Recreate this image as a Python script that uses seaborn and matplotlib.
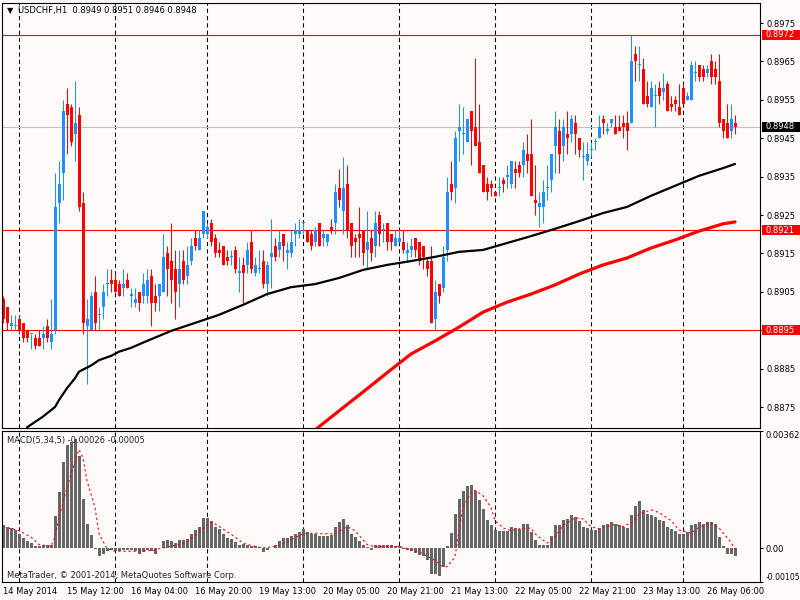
import numpy as np
import pandas as pd
import matplotlib
matplotlib.use('Agg')
import matplotlib.pyplot as plt
import matplotlib.transforms as mtransforms
from matplotlib.patches import Rectangle
import seaborn as sns

# USDCHF H1 bars from 14 May 2014 20:00, prices in pips (price = pips / 10000)
opens = [8903, 8901, 8896, 8896, 8898, 8897, 8895, 8894, 8893, 8893,
         8893, 8896, 8892, 8895, 8928, 8936, 8954, 8953, 8946, 8951,
         8928, 8896, 8895, 8905, 8899, 8901, 8907, 8908, 8908, 8907,
         8906, 8908, 8904, 8902, 8905, 8904, 8904, 8909, 8904, 8904,
         8905, 8915, 8913, 8911, 8907, 8913, 8909, 8913, 8919, 8916,
         8920, 8920, 8923, 8919, 8916, 8917, 8914, 8914, 8916, 8910,
         8912, 8912, 8918, 8910, 8911, 8913, 8907, 8914, 8917, 8916,
         8920, 8915, 8915, 8920, 8920, 8923, 8921, 8920, 8918, 8923,
         8919, 8918, 8922, 8923, 8932, 8926, 8933, 8923, 8919, 8920,
         8921, 8916, 8919, 8917, 8925, 8921, 8923, 8920, 8917, 8918,
         8918, 8915, 8916, 8919, 8918, 8917, 8913, 8913, 8898, 8907,
         8906, 8916, 8933, 8932, 8947, 8946, 8944, 8952, 8948, 8944,
         8938, 8933, 8933, 8931, 8932, 8934, 8935, 8933, 8937, 8938,
         8938, 8941, 8941, 8929, 8927, 8927, 8932, 8934, 8943, 8947,
         8943, 8946, 8946, 8949, 8945, 8940, 8939, 8942, 8944, 8945,
         8950, 8947, 8949, 8948, 8948, 8949, 8949, 8949, 8967, 8964,
         8963, 8956, 8953, 8956, 8958, 8957, 8959, 8954, 8955, 8953,
         8958, 8955, 8955, 8962, 8964, 8963, 8962, 8965, 8963, 8960,
         8950, 8949, 8947, 8949]
highs = [8904, 8901, 8899, 8899, 8899, 8897, 8895, 8894, 8894, 8895,
         8896, 8898, 8903, 8936, 8939, 8955, 8958, 8954, 8960, 8953,
         8931, 8903, 8905, 8909, 8901, 8907, 8911, 8911, 8910, 8908,
         8911, 8910, 8906, 8906, 8905, 8910, 8911, 8911, 8907, 8907,
         8920, 8917, 8923, 8916, 8916, 8916, 8917, 8919, 8921, 8921,
         8926, 8923, 8924, 8920, 8918, 8917, 8916, 8916, 8917, 8914,
         8914, 8918, 8921, 8914, 8916, 8916, 8913, 8924, 8919, 8921,
         8920, 8918, 8921, 8923, 8924, 8923, 8921, 8921, 8922, 8923,
         8921, 8920, 8924, 8933, 8937, 8940, 8938, 8923, 8920, 8927,
         8921, 8926, 8921, 8926, 8926, 8923, 8923, 8920, 8921, 8921,
         8921, 8918, 8919, 8919, 8918, 8917, 8914, 8917, 8908, 8907,
         8917, 8935, 8939, 8947, 8954, 8953, 8950, 8952, 8966, 8954,
         8938, 8935, 8934, 8931, 8935, 8935, 8938, 8939, 8939, 8939,
         8944, 8946, 8950, 8938, 8931, 8934, 8938, 8941, 8952, 8950,
         8950, 8952, 8951, 8951, 8945, 8944, 8944, 8944, 8945, 8951,
         8951, 8949, 8950, 8951, 8951, 8951, 8952, 8972, 8969, 8969,
         8966, 8960, 8960, 8959, 8960, 8962, 8960, 8956, 8956, 8959,
         8959, 8957, 8965, 8965, 8964, 8964, 8964, 8967, 8965, 8967,
         8950, 8954, 8954, 8951]
lows = [8897, 8895, 8895, 8895, 8894, 8892, 8892, 8890, 8890, 8891,
        8890, 8892, 8890, 8894, 8923, 8929, 8941, 8943, 8939, 8926,
        8894, 8881, 8895, 8895, 8895, 8898, 8904, 8905, 8905, 8904,
        8904, 8906, 8901, 8901, 8900, 8902, 8902, 8896, 8900, 8900,
        8905, 8904, 8902, 8898, 8901, 8907, 8907, 8912, 8916, 8916,
        8919, 8919, 8917, 8914, 8914, 8912, 8912, 8912, 8910, 8905,
        8902, 8910, 8910, 8909, 8910, 8906, 8904, 8906, 8913, 8914,
        8913, 8911, 8914, 8917, 8919, 8920, 8918, 8916, 8917, 8917,
        8917, 8917, 8920, 8920, 8927, 8920, 8919, 8914, 8914, 8914,
        8912, 8911, 8913, 8914, 8917, 8918, 8916, 8916, 8917, 8918,
        8915, 8913, 8914, 8914, 8912, 8911, 8909, 8897, 8895, 8902,
        8905, 8913, 8929, 8928, 8939, 8941, 8944, 8938, 8943, 8936,
        8931, 8929, 8930, 8930, 8930, 8931, 8932, 8932, 8932, 8935,
        8935, 8936, 8930, 8925, 8922, 8923, 8929, 8931, 8936, 8936,
        8939, 8941, 8944, 8941, 8940, 8934, 8938, 8940, 8942, 8945,
        8946, 8946, 8948, 8946, 8947, 8945, 8942, 8949, 8960, 8960,
        8954, 8953, 8953, 8948, 8954, 8955, 8952, 8952, 8952, 8951,
        8954, 8955, 8955, 8960, 8960, 8960, 8961, 8959, 8959, 8948,
        8945, 8945, 8945, 8946]
closes = [8898, 8897, 8897, 8896, 8895, 8893, 8893, 8894, 8891, 8891,
          8894, 8893, 8894, 8927, 8933, 8952, 8951, 8944, 8949, 8927,
          8897, 8898, 8904, 8897, 8899, 8905, 8907, 8907, 8905, 8904,
          8907, 8906, 8904, 8903, 8902, 8907, 8908, 8902, 8902, 8907,
          8914, 8911, 8908, 8905, 8911, 8908, 8912, 8917, 8917, 8919,
          8926, 8922, 8918, 8915, 8915, 8912, 8913, 8914, 8911, 8910,
          8910, 8916, 8911, 8912, 8911, 8907, 8912, 8915, 8914, 8918,
          8917, 8916, 8918, 8921, 8921, 8923, 8918, 8917, 8921, 8917,
          8920, 8920, 8921, 8931, 8929, 8932, 8921, 8917, 8918, 8919,
          8915, 8918, 8915, 8923, 8920, 8921, 8918, 8918, 8919, 8919,
          8916, 8916, 8917, 8916, 8913, 8914, 8911, 8897, 8905, 8904,
          8914, 8931, 8931, 8945, 8948, 8946, 8950, 8947, 8943, 8936,
          8931, 8931, 8932, 8930, 8932, 8933, 8935, 8939, 8936, 8936,
          8942, 8939, 8930, 8928, 8928, 8931, 8932, 8941, 8948, 8941,
          8948, 8945, 8950, 8946, 8942, 8940, 8941, 8942, 8944, 8948,
          8949, 8947, 8950, 8946, 8947, 8948, 8947, 8965, 8965, 8964,
          8954, 8954, 8958, 8956, 8956, 8958, 8952, 8953, 8954, 8951,
          8954, 8956, 8964, 8962, 8961, 8961, 8963, 8961, 8961, 8949,
          8947, 8945, 8950, 8948]

# moving averages (read every few bars)
ma_black_bars = [6, 10, 13, 14, 16, 18, 19, 22, 24, 27, 29, 32, 36, 42, 48, 54, 60,
                 66, 72, 78, 84, 90, 96, 102, 108, 114, 120, 126, 132, 138, 144,
                 150, 156, 162, 168, 174, 180, 183]
ma_black = [0.88697, 0.88725, 0.88750, 0.88768, 0.88799, 0.88825, 0.88842, 0.88858,
            0.88872, 0.88883, 0.88894, 0.88904, 0.88922, 0.88948, 0.88969, 0.88990,
            0.89016, 0.89044, 0.89062, 0.89070, 0.89086, 0.89107, 0.89120, 0.89130,
            0.89141, 0.89154, 0.89159, 0.89177, 0.89195, 0.89214, 0.89234, 0.89255,
            0.89271, 0.89300, 0.89326, 0.89352, 0.89372, 0.89383]
ma_red_bars = [78, 84, 90, 96, 102, 108, 114, 120, 126, 132, 138, 144, 150, 156,
               162, 168, 174, 180, 183]
ma_red = [0.88690, 0.88740, 0.88789, 0.88839, 0.88888, 0.88922, 0.88958, 0.88997,
          0.89023, 0.89044, 0.89068, 0.89096, 0.89120, 0.89138, 0.89164, 0.89185,
          0.89208, 0.89227, 0.89232]

# MACD(5,34,5) main values in 1e-5
macd_main = [72, 66, 61, 56, 42, 32, 21, 16, 6, 6,
             8, 8, 8, 100, 172, 266, 318, 327, 337, 286,
             151, 75, 41, -4, -26, -17, -9, -7, -9, -9,
             -7, -5, -7, -9, -20, -12, -7, -9, -17, 0,
             21, 26, 21, 16, 24, 26, 29, 44, 57, 66,
             92, 94, 85, 66, 59, 44, 32, 27, 18, 10,
             13, 8, 6, 6, 3, -12, -7, 0, 10, 21,
             31, 31, 36, 44, 51, 59, 49, 42, 42, 36,
             36, 36, 39, 64, 80, 90, 70, 44, 34, 21,
             8, 3, -7, 8, 10, 10, 8, 8, 6, 6,
             -4, -7, -10, -14, -22, -26, -38, -79, -81, -86,
             -58, 5, 46, 105, 151, 175, 192, 195, 177, 149,
             121, 87, 72, 57, 52, 52, 54, 64, 62, 59,
             75, 73, 49, 24, 8, 8, 8, 36, 70, 70,
             87, 90, 102, 95, 83, 66, 62, 56, 56, 62,
             70, 73, 80, 73, 70, 66, 62, 103, 131, 144,
             118, 105, 102, 95, 87, 85, 66, 59, 54, 44,
             42, 49, 70, 73, 80, 75, 80, 80, 75, 34,
             5, -20, -20, -26]
signal_bars = [0, 4, 7, 9, 12, 13, 14, 16, 18, 19, 20, 21, 23, 24, 26, 28, 33, 38, 39,
               43, 46, 49, 52, 53, 55, 58, 60, 63, 65, 68, 70, 73, 75, 78, 80, 83, 86,
               88, 91, 93, 96, 99, 104, 108, 110, 111, 113, 114, 115, 117, 118, 120,
               122, 123, 125, 127, 129, 132, 133, 136, 138, 140, 143, 145, 147, 149,
               153, 155, 158, 159, 162, 164, 167, 169, 172, 174, 177, 179, 182, 183]
signal_vals = [66, 54, 34, 11, 5, 34, 95, 187, 269, 305, 279, 208, 126, 44, -2, -10,
               -10, -7, -2, 8, 18, 49, 80, 75, 59, 34, 15, 5, 0, 5, 13, 32, 44, 46, 44,
               44, 66, 54, 11, 3, 5, 5, -12, -38, -58, -58, -28, 54, 126, 172, 179, 162,
               126, 85, 62, 54, 59, 62, 44, 15, 34, 70, 93, 90, 66, 59, 73, 66, 85, 105,
               118, 110, 85, 56, 46, 64, 77, 62, 18, -5]

levels_red = [0.8972, 0.8921, 0.8895]
price_ticks = [0.8875, 0.8885, 0.8895, 0.8905, 0.8915, 0.8925, 0.8935, 0.8945,
               0.8955, 0.8965, 0.8975]
macd_ticks = [-0.00105, 0.0, 0.00362]
macd_tick_labels = ['-0.00105', '0.00', '0.00362']

day_starts = [4, 28, 51, 75, 99, 123, 147, 170]
time_tick_bars = [0, 16, 32, 48, 64, 80, 96, 112, 128, 144, 160, 176]
time_labels = ['14 May 2014', '15 May 12:00', '16 May 04:00', '16 May 20:00',
               '19 May 13:00', '20 May 05:00', '20 May 21:00', '21 May 13:00',
               '22 May 05:00', '22 May 21:00', '23 May 13:00', '26 May 06:00']

df = pd.DataFrame({'o': opens, 'h': highs, 'l': lows, 'c': closes}) / 10000.0
df['bar'] = np.arange(len(df))
macd = pd.DataFrame({'bar': np.arange(len(macd_main)), 'v': np.array(macd_main) / 1e5})
sig = pd.DataFrame({'bar': signal_bars, 'v': np.array(signal_vals) / 1e5})

sns.set_theme(style='white')
plt.rcParams['font.family'] = ['DejaVu Sans']
bg = '#FFFAFA'
fs = 6.0

fig = plt.figure(figsize=(8, 6), dpi=100, facecolor=bg)
ax = fig.add_axes([2 / 800, 1 - 428 / 600, 758 / 800, 425 / 600], facecolor=bg)
ax2 = fig.add_axes([2 / 800, 1 - 582 / 600, 758 / 800, 151 / 600], facecolor=bg)

# period separators
for a in (ax, ax2):
    for d in day_starts:
        a.axvline(d, color='black', lw=0.75, ls=(0, (4, 3)), zorder=0.5)

# levels
for lv in levels_red:
    ax.axhline(lv, color='#FF0000', lw=0.8, zorder=1)
bid = df['c'].iloc[-1]
ax.axhline(bid, color='#C0C0C0', lw=0.8, zorder=1)

# candles
up = df['c'] >= df['o']
cols = np.where(up, '#1E90FF', '#FF0000')
ax.vlines(df['bar'], df['l'], df['h'], colors=cols, lw=0.75, zorder=2)
body_lo = np.minimum(df['o'], df['c'])
body_h = np.maximum((df['c'] - df['o']).abs(), 0.00003)
ax.bar(df['bar'], body_h, bottom=body_lo, width=0.75, color=cols, lw=0, zorder=2)

# moving averages
sns.lineplot(x=ma_black_bars, y=ma_black, ax=ax, color='black', lw=1.6, zorder=3, errorbar=None)
sns.lineplot(x=ma_red_bars, y=ma_red, ax=ax, color='#FF0000', lw=2.3, zorder=3, errorbar=None)

ax.set_xlim(-0.25, 189.25)
ax.set_ylim(0.8975 - 405 / 38400, 0.8975 + 20 / 38400)
ax.set_xticks([])
ax.yaxis.tick_right()
ax.set_yticks(price_ticks)
ax.set_yticklabels([f'{p:.4f}' for p in price_ticks])
ax.tick_params(axis='y', length=2, width=0.75, pad=2.5, labelsize=fs, colors='black', direction='out')
ax.set_xlabel('')
ax.set_ylabel('')

# MACD panel
sns.barplot(data=macd, x='bar', y='v', ax=ax2, native_scale=True, width=0.75,
            color='#666666', saturation=1, errorbar=None, linewidth=0, zorder=2)
sns.lineplot(data=sig, x='bar', y='v', ax=ax2, color='#FF0000', lw=0.8,
             linestyle=(0, (2, 2.5)), zorder=3, errorbar=None)
ax2.set_xlim(-0.25, 189.25)
ax2.set_ylim(-0.001052, 0.003622)
ax2.yaxis.tick_right()
ax2.set_yticks(macd_ticks)
ax2.set_yticklabels(macd_tick_labels)
ax2.tick_params(axis='both', length=2.2, width=0.75, pad=1.5, labelsize=fs, colors='black', direction='out')
labs = ax2.get_yticklabels()
labs[0].set_va('bottom')
labs[0].set_fontsize(5.6)
labs[2].set_va('top')
ax2.set_xticks(time_tick_bars)
ax2.set_xticklabels(time_labels, ha='left')
ax2.set_xlabel('')
ax2.set_ylabel('')

for a in (ax, ax2):
    for s in a.spines.values():
        s.set_color('black')
        s.set_linewidth(0.8)

# highlighted price labels on the scale
trans = mtransforms.blended_transform_factory(fig.transFigure, ax.transData)
box_h = 10 / 38400
for lv, bc in [(levels_red[0], '#FF0000'), (bid, 'black'), (levels_red[1], '#FF0000'), (levels_red[2], '#FF0000')]:
    fig.add_artist(Rectangle((762 / 800, lv - box_h / 2), 38 / 800, box_h, transform=trans,
                             facecolor=bc, edgecolor='none', zorder=5))
    fig.text(766 / 800, lv, f'{lv:.4f}', transform=trans, color='white', fontsize=fs,
             va='center', ha='left', zorder=6)

# header texts
fig.text(7 / 800, 1 - 11 / 600, '\u25bc', fontsize=6, va='center', ha='left', color='black')
fig.text(18 / 800, 1 - 11 / 600,
         f"USDCHF,H1  {df['o'].iloc[-1]:.4f} {df['h'].iloc[-1]:.4f} {df['l'].iloc[-1]:.4f} {df['c'].iloc[-1]:.4f}",
         fontsize=fs, va='center', ha='left', color='black')
fig.text(7 / 800, 1 - 440 / 600,
         f"MACD(5,34,5) {macd['v'].iloc[-1]:.5f} {sig['v'].iloc[-1]:.5f}",
         fontsize=fs, va='center', ha='left', color='#222222')
fig.text(7 / 800, 1 - 575 / 600, 'MetaTrader, \u00a9 2001-2014, MetaQuotes Software Corp.',
         fontsize=fs, va='center', ha='left', color='#222222')

fig.savefig('out.png', dpi=100, facecolor=bg)
